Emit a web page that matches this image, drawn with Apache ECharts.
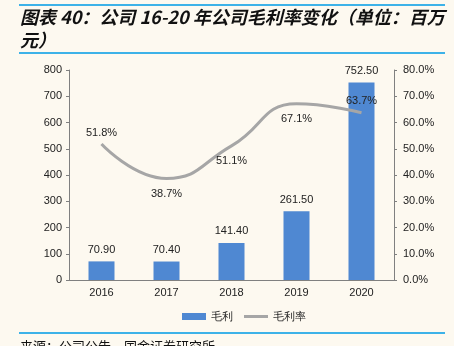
<!DOCTYPE html>
<html><head><meta charset="utf-8">
<script src="https://cdn.jsdelivr.net/npm/echarts@6/dist/echarts.min.js"></script>
<style>html,body{margin:0;padding:0;background:#FDF9F0;}#c{width:454px;height:346px;}</style>
</head><body><div id="c"></div>
<script>
var categories = ['2016','2017','2018','2019','2020'];
var grossProfit = [70.90, 70.40, 141.40, 261.50, 752.50];
var grossMargin = [51.8, 38.7, 51.1, 67.1, 63.7];
var marginLabelPos = ['top','bottom','bottom','bottom','top'];
var leftTicks = [0,100,200,300,400,500,600,700,800];
var rightTicks = [0,10,20,30,40,50,60,70,80];

var chart = echarts.init(document.getElementById('c'));
var txt = '#222';
var font = 'Liberation Sans, Arial, sans-serif';
chart.setOption({
  backgroundColor: '#FDF9F0',
  animation: false,
  graphic: [
    {type:'line', shape:{x1:19,y1:5,x2:445,y2:5}, style:{stroke:'#3DB2E8', lineWidth:2}},
    {type:'line', shape:{x1:19,y1:53,x2:445,y2:53}, style:{stroke:'#3DB2E8', lineWidth:2}},
    {type:'line', shape:{x1:19,y1:333,x2:445,y2:333}, style:{stroke:'#3DB2E8', lineWidth:2}},
    {type:'text', left:20, top:6, style:{text:'图表 40：公司 16-20 年公司毛利率变化（单位：百万\n元）', font:'italic bold 18px "Noto Sans CJK SC"', fill:'#111', lineHeight:23}},
    {type:'text', left:20, top:340, style:{text:'来源：公司公告，国金证券研究所', font:'13px "Noto Sans CJK SC"', fill:'#111'}}
  ],
  legend: {
    bottom: 19, left: 177, itemWidth: 24, itemHeight: 7, itemGap: 11,
    textStyle: {fontFamily: font, fontSize: 11, color: txt},
    data: [{name:'毛利', icon:'rect'}, {name:'毛利率', icon:'path://M0,0 L24,0 L24,3 L0,3 Z'}]
  },
  grid: {left: 69, right: 60, top: 70, bottom: 66},
  xAxis: {
    type: 'category', data: categories,
    axisLine: {lineStyle: {color: '#808080'}},
    axisTick: {lineStyle: {color: '#808080'}, length: 4},
    axisLabel: {fontFamily: font, fontSize: 11, color: txt, margin: 7}
  },
  yAxis: [
    {type:'value', min:0, max:800, interval:100,
     axisLine:{show:true, lineStyle:{color:'#808080'}},
     axisTick:{show:true, length:3, lineStyle:{color:'#808080'}},
     splitLine:{show:false},
     axisLabel:{fontFamily:font, fontSize:11, color:txt, margin:7}},
    {type:'value', min:0, max:80, interval:10,
     axisLine:{show:true, lineStyle:{color:'#808080'}},
     axisTick:{show:true, length:3, lineStyle:{color:'#808080'}},
     splitLine:{show:false},
     axisLabel:{fontFamily:font, fontSize:11, color:txt, margin:9,
       formatter:function(v){return v.toFixed(1)+'%';}}}
  ],
  series: [
    {name:'毛利', type:'bar', data:grossProfit, barWidth:26,
     itemStyle:{color:'#4F88D2'},
     label:{show:true, position:'top', distance:6, fontFamily:font, fontSize:11, color:txt,
       formatter:function(p){return p.value.toFixed(2);}}},
    {name:'毛利率', type:'line', yAxisIndex:1, smooth:0.5, symbol:'circle', symbolSize:0.1, showSymbol:true,
     lineStyle:{color:'#A6A6A6', width:3}, itemStyle:{color:'#A6A6A6'},
     data: grossMargin.map(function(v,i){
       return {value:v, label:{position:marginLabelPos[i], distance: marginLabelPos[i]==='top'?6:10}};
     }),
     label:{show:true, fontFamily:font, fontSize:11, color:txt,
       formatter:function(p){return p.value.toFixed(1)+'%';}}}
  ]
});
</script></body></html>
